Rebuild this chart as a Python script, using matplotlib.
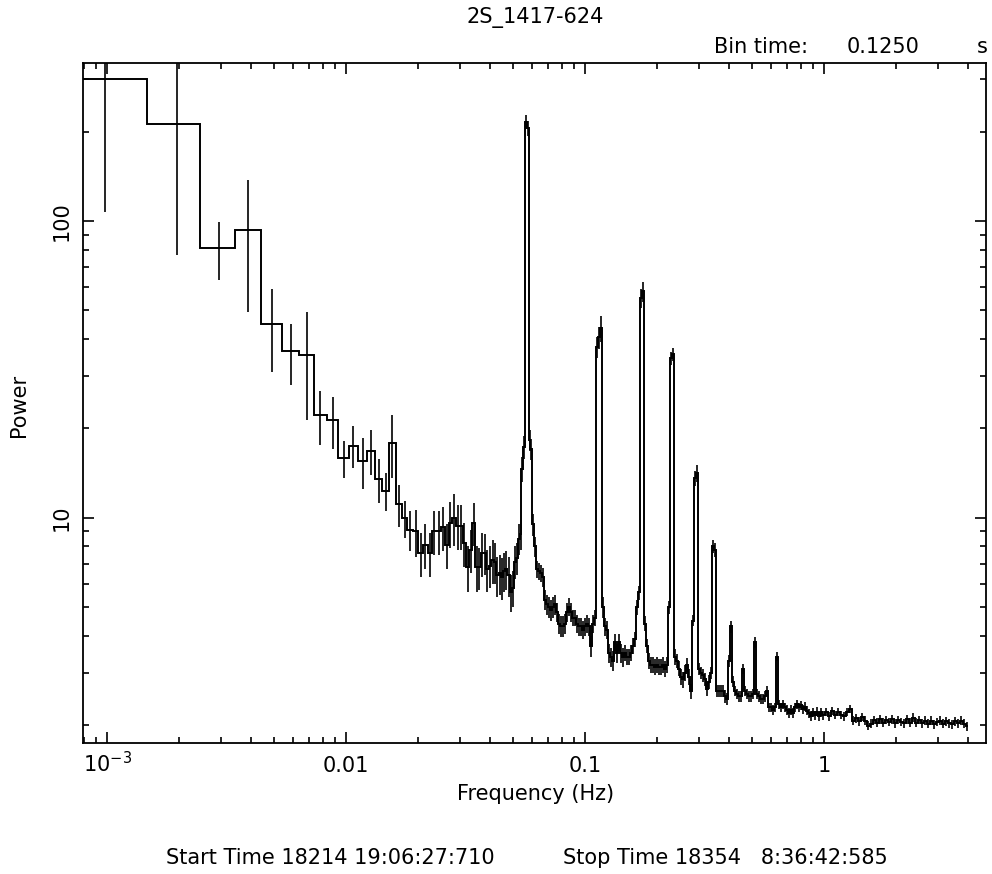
import numpy as np
import matplotlib
matplotlib.use("Agg")
import matplotlib.pyplot as plt
from matplotlib.ticker import FixedLocator, FixedFormatter, NullFormatter, LogLocator

plt.rcParams['font.family'] = ['DejaVu Sans']
plt.rcParams['mathtext.default'] = 'regular'

# ---------------- data ----------------
# Fourier frequencies (Hz): individual bins at low frequency, finer-grained reading above 0.06 Hz
freq = [
    0.0009766, 0.001953, 0.002930, 0.003906, 0.004883, 0.005859, 0.006836, 0.007813, 0.008789, 0.009766,
    0.01074, 0.01172, 0.01270, 0.01367, 0.01465, 0.01563, 0.01660, 0.01758, 0.01855, 0.01953,
    0.02051, 0.02148, 0.02246, 0.02344, 0.02441, 0.02539, 0.02637, 0.02734, 0.02832, 0.02930,
    0.03027, 0.03125, 0.03223, 0.03320, 0.03418, 0.03516, 0.03613, 0.03711, 0.03809, 0.03906,
    0.04004, 0.04102, 0.04199, 0.04297, 0.04395, 0.04492, 0.04590, 0.04688, 0.04785, 0.04883,
    0.04980, 0.05078, 0.05176, 0.05273, 0.05371, 0.05469, 0.05566, 0.05664, 0.05762, 0.05859,
    0.05957,
    0.06059, 0.06177, 0.06297, 0.06420, 0.06545, 0.06673, 0.06802, 0.06934, 0.07069, 0.07206,
    0.07346, 0.07489, 0.07634, 0.07782, 0.07934, 0.08088, 0.08245, 0.08405, 0.08569, 0.08735,
    0.08905, 0.09078, 0.09254, 0.09434, 0.09617, 0.09805, 0.1000, 0.1019, 0.1039, 0.1059,
    0.1080, 0.1101, 0.1122, 0.1144, 0.1166, 0.1189, 0.1212, 0.1236, 0.1260, 0.1284,
    0.1309, 0.1335, 0.1361, 0.1387, 0.1414, 0.1442, 0.1470, 0.1498, 0.1528, 0.1557,
    0.1588, 0.1619, 0.1650, 0.1682, 0.1715, 0.1749, 0.1782, 0.1817, 0.1853, 0.1889,
    0.1925, 0.1963, 0.2001, 0.2040, 0.2080, 0.2120, 0.2162, 0.2204, 0.2246, 0.2290,
    0.2335, 0.2380, 0.2426, 0.2474, 0.2522, 0.2570, 0.2620, 0.2671, 0.2723, 0.2776,
    0.2830, 0.2885, 0.2941, 0.2999, 0.3057, 0.3116, 0.3177, 0.3239, 0.3302, 0.3366,
    0.3431, 0.3498, 0.3566, 0.3636, 0.3707, 0.3779, 0.3852, 0.3927, 0.4004, 0.4082,
    0.4161, 0.4242, 0.4325, 0.4409, 0.4494, 0.4582, 0.4671, 0.4762, 0.4855, 0.4949,
    0.5046, 0.5144, 0.5244, 0.5346, 0.5450, 0.5556, 0.5664, 0.5774, 0.5886, 0.6001,
    0.6117, 0.6237, 0.6358, 0.6482, 0.6608, 0.6736, 0.6867, 0.7001, 0.7137, 0.7276,
    0.7418, 0.7562, 0.7709, 0.7859, 0.8012, 0.8168, 0.8327, 0.8488, 0.8654, 0.8822,
    0.8994, 0.9169, 0.9348, 0.9530, 0.9715, 0.9904,
    1.0195, 1.049, 1.080, 1.112, 1.144, 1.178, 1.213, 1.248, 1.285, 1.322,
    1.361, 1.401, 1.442, 1.484, 1.528, 1.573, 1.619, 1.667, 1.715, 1.766,
    1.817, 1.871, 1.925, 1.982, 2.040, 2.100, 2.161, 2.225, 2.290, 2.357,
    2.426, 2.497, 2.570, 2.646, 2.723, 2.803, 2.885, 2.970, 3.057, 3.146,
    3.239, 3.334, 3.431, 3.532, 3.635, 3.742, 3.851, 3.964,
]

power = [
    300, 213, 81.3, 93.3, 45.1, 36.6, 35.4, 22.2, 21.3, 15.9,
    17.5, 15.5, 16.8, 13.5, 12.3, 17.9, 11.1, 9.95, 9.1, 9.0,
    7.6, 8.1, 7.6, 9.0, 9.0, 9.3, 8.1, 9.6, 10.0, 9.4,
    9.4, 8.2, 6.8, 7.8, 9.6, 6.8, 6.8, 7.6, 7.6, 6.7,
    6.9, 7.2, 7.1, 6.4, 6.5, 6.3, 6.6, 6.7, 6.4, 5.6,
    5.8, 7.1, 7.3, 8.5, 8.8, 14.6, 17.3, 216, 205, 18.3,
    17.0,
    9.5, 8.0, 6.7, 6.6, 6.5, 6.3, 5.3, 5.1, 5.0, 4.9,
    5.0, 5.1, 4.8, 4.4, 4.3, 4.3, 4.4, 4.8, 5.0, 4.8,
    4.6, 4.6, 4.4, 4.3, 4.3, 4.2, 4.3, 4.4, 4.3, 3.7,
    4.4, 4.6, 37.5, 40.5, 43.5, 5.0, 4.3, 4.2, 3.5, 3.4,
    3.3, 3.8, 3.5, 3.8, 3.5, 3.4, 3.5, 3.4, 3.4, 3.5,
    3.7, 3.9, 5.0, 5.6, 55.0, 58.0, 4.4, 3.7, 3.3, 3.2,
    3.2, 3.15, 3.2, 3.15, 3.15, 3.2, 3.1, 3.2, 5.0, 34.5,
    35.5, 3.4, 3.3, 3.1, 2.9, 2.85, 3.0, 3.2, 2.9, 2.6,
    4.5, 13.6, 14.1, 3.1, 3.0, 2.95, 2.85, 2.65, 2.8, 3.0,
    8.0, 7.8, 2.6, 2.6, 2.6, 2.6, 2.5, 2.45, 3.3, 4.3,
    2.8, 2.6, 2.55, 2.5, 2.5, 3.1, 2.6, 2.55, 2.5, 2.5,
    2.55, 3.8, 2.55, 2.5, 2.45, 2.45, 2.5, 2.6, 2.3, 2.3,
    2.25, 2.3, 3.4, 2.35, 2.3, 2.35, 2.3, 2.25, 2.2, 2.25,
    2.2, 2.3, 2.35, 2.3, 2.33, 2.26, 2.31, 2.24, 2.19, 2.15,
    2.21, 2.16, 2.22, 2.14, 2.21, 2.16,
    2.22, 2.14, 2.23, 2.16, 2.21, 2.17, 2.14, 2.21, 2.27, 2.07,
    2.11, 2.06, 2.13, 2.07, 1.99, 2.02, 2.08, 2.04, 2.09, 2.04,
    2.08, 2.05, 2.09, 2.03, 2.08, 2.05, 2.03, 2.09, 2.04, 2.12,
    2.04, 2.08, 2.03, 2.07, 2.02, 2.07, 2.01, 2.05, 2.07, 2.02,
    2.06, 2.03, 2.01, 2.06, 2.03, 2.07, 2.02, 1.98,
]

error = [
    193, 136, 18, 44, 14, 8.5, 14, 4.6, 4.3, 2.3,
    2.8, 3.0, 2.9, 2.3, 1.8, 4.3, 1.8, 1.4, 1.4, 1.6,
    1.3, 1.4, 1.3, 1.5, 1.5, 1.6, 1.4, 1.7, 2.0, 1.6,
    1.6, 1.4, 1.2, 1.3, 1.6, 1.2, 1.1, 1.3, 1.2, 1.1,
    1.1, 1.2, 1.1, 1.0, 1.0, 1.0, 1.0, 1.0, 1.0, 0.8,
    0.8, 0.9, 0.9, 1.0, 1.0, 1.4, 1.5, 12, 12, 1.5,
    1.4,
    0.8, 0.6, 0.45, 0.45, 0.45, 0.45, 0.4, 0.4, 0.4, 0.4,
    0.4, 0.4, 0.35, 0.35, 0.35, 0.35, 0.35, 0.35, 0.35, 0.35,
    0.3, 0.3, 0.3, 0.3, 0.3, 0.3, 0.3, 0.3, 0.3, 0.3,
    0.3, 0.3, 3.0, 3.5, 4.5, 0.4, 0.3, 0.3, 0.25, 0.25,
    0.25, 0.25, 0.25, 0.25, 0.25, 0.25, 0.22, 0.22, 0.22, 0.22,
    0.22, 0.22, 0.3, 0.3, 4.0, 4.5, 0.25, 0.2, 0.2, 0.2,
    0.2, 0.2, 0.2, 0.2, 0.2, 0.2, 0.2, 0.2, 0.25, 1.8,
    1.8, 0.2, 0.18, 0.18, 0.18, 0.18, 0.18, 0.18, 0.18, 0.15,
    0.2, 0.8, 0.9, 0.15, 0.15, 0.15, 0.15, 0.15, 0.15, 0.15,
    0.4, 0.4, 0.12, 0.12, 0.12, 0.12, 0.12, 0.12, 0.15, 0.2,
    0.12, 0.1, 0.1, 0.1, 0.1, 0.12, 0.1, 0.1, 0.1, 0.1,
    0.1, 0.15, 0.1, 0.1, 0.1, 0.1, 0.1, 0.1, 0.08, 0.08,
    0.08, 0.08, 0.12, 0.08, 0.08, 0.08, 0.08, 0.08, 0.08, 0.08,
    0.08, 0.08, 0.08, 0.08, 0.08, 0.08, 0.08, 0.08, 0.08, 0.08,
    0.08, 0.08, 0.08, 0.08, 0.08, 0.08,
    0.07, 0.07, 0.07, 0.07, 0.07, 0.07, 0.07, 0.07, 0.07, 0.07,
    0.07, 0.07, 0.07, 0.07, 0.07, 0.07, 0.07, 0.07, 0.07, 0.07,
    0.07, 0.07, 0.07, 0.07, 0.07, 0.07, 0.07, 0.07, 0.07, 0.07,
    0.07, 0.07, 0.07, 0.07, 0.07, 0.07, 0.07, 0.07, 0.07, 0.07,
    0.07, 0.07, 0.07, 0.07, 0.07, 0.07, 0.07, 0.07,
]

x_major = [1e-3, 1e-2, 1e-1, 1.0]
x_major_labels = [r'$10^{-3}$', '0.01', '0.1', '1']
y_major = [10, 100]
y_major_labels = ['10', '100']

title = '2S_1417-624'
bin_time = '0.1250'
start_text = 'Start Time 18214 19:06:27:710'
stop_text = 'Stop Time 18354   8:36:42:585'

# ---------------- figure ----------------
W, H = 992, 874
fig = plt.figure(figsize=(W / 100, H / 100), dpi=100)
ax = fig.add_axes([83 / W, 1 - 742.7 / H, (986 - 83) / W, (742.7 - 63.3) / H])

f = np.array(freq)
p = np.array(power)
e = np.array(error)
edges = np.concatenate([[f[0] - (f[1] - f[0]) / 2], (f[:-1] + f[1:]) / 2, [f[-1] + (f[-1] - f[-2]) / 2]])

ax.stairs(p, edges, color='black', lw=1.4, baseline=None)
ax.errorbar(f, p, yerr=e, fmt='none', ecolor='black', elinewidth=1.2, capsize=0)

ax.set_xscale('log')
ax.set_yscale('log')
ax.set_xlim(7.93e-4, 4.76)
ax.set_ylim(1.745, 340)

ax.xaxis.set_major_locator(FixedLocator(x_major))
ax.xaxis.set_major_formatter(FixedFormatter(x_major_labels))
ax.xaxis.set_minor_locator(LogLocator(base=10, subs=np.arange(2, 10)))
ax.xaxis.set_minor_formatter(NullFormatter())
ax.yaxis.set_major_locator(FixedLocator(y_major))
ax.yaxis.set_major_formatter(FixedFormatter(y_major_labels))
ax.yaxis.set_minor_locator(LogLocator(base=10, subs=np.arange(2, 10)))
ax.yaxis.set_minor_formatter(NullFormatter())

for s in ax.spines.values():
    s.set_linewidth(1.3)
ax.tick_params(which='both', direction='in', top=True, right=True, width=1.2, colors='black', labelsize=15)
ax.tick_params(which='major', length=8)
ax.tick_params(which='minor', length=4.5)
ax.tick_params(axis='x', pad=21)
ax.tick_params(axis='y', pad=8)

for t in ax.xaxis.get_major_ticks():
    t.label1.set_verticalalignment('baseline')
for t in ax.yaxis.get_major_ticks():
    t.label1.set_rotation(90)
    t.label1.set_verticalalignment('center')

fs = 15
fig.text(535.5 / W, 1 - 23.3 / H, title, ha='center', va='baseline', fontsize=fs)
fig.text(714 / W, 1 - 53.3 / H, 'Bin time:', ha='left', va='baseline', fontsize=fs)
fig.text(847 / W, 1 - 53.3 / H, bin_time, ha='left', va='baseline', fontsize=fs)
fig.text(988 / W, 1 - 53.3 / H, 's', ha='right', va='baseline', fontsize=fs)
fig.text(19 / W, 1 - 405 / H, 'Power', rotation=90, ha='center', va='center', fontsize=fs)
fig.text(536 / W, 1 - 800 / H, 'Frequency (Hz)', ha='center', va='baseline', fontsize=fs)
fig.text(166 / W, 1 - 864.5 / H, start_text, ha='left', va='baseline', fontsize=fs)
fig.text(563 / W, 1 - 864.5 / H, stop_text, ha='left', va='baseline', fontsize=fs)

fig.savefig('out.png', dpi=100, facecolor='white')
